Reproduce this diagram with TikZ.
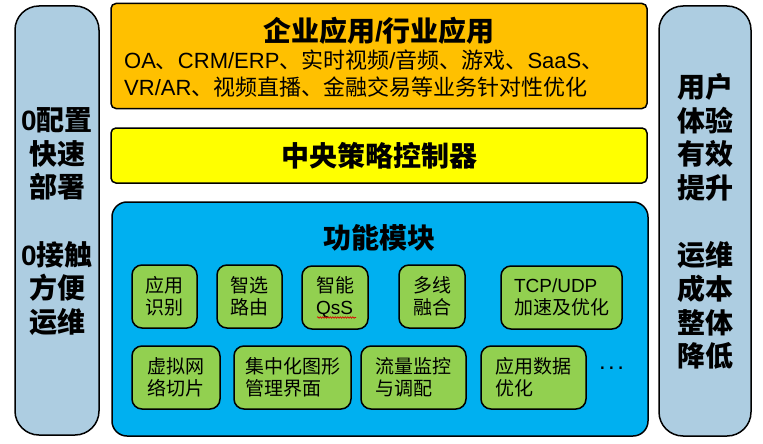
\documentclass[tikz,border=0pt]{standalone}
\usepackage{fontspec}
\setmainfont{Noto Sans CJK SC}
\newfontfamily\ar{Liberation Sans}
\usetikzlibrary{decorations.pathmorphing}
\definecolor{orangebox}{HTML}{FFC000}
\definecolor{yellowbox}{HTML}{FFFF00}
\definecolor{bluebox}{HTML}{00B0F0}
\definecolor{greenbox}{HTML}{92D050}
\definecolor{sidebox}{HTML}{ADCDE1}
\tikzset{
  frame/.style={draw=black, line width=1.5pt, inner sep=0pt, outer sep=0pt},
  sidepanel/.style={frame, fill=sidebox, rounded corners=24pt, minimum width=#1},
  sidetext/.style={font=\fontsize{28}{33.7}\selectfont\bfseries, align=center, inner sep=0pt},
  modbox/.style={frame, fill=greenbox, rounded corners=10pt, minimum height=63pt,
    minimum width=#1, align=left, font=\fontsize{19}{22}\selectfont},
  headtext/.style={font=\fontsize{28}{30}\selectfont\bfseries, inner sep=0pt},
}
\begin{document}
\begin{tikzpicture}[x=1pt, y=-1pt]
\useasboundingbox (0,0) rectangle (763,444);

% side panels
\node[sidepanel=84pt, minimum height=429pt] (left) at (57,220.5) {};
\node[sidetext] (lefttext) at (57,221.5) {{\ar 0}配置\\快速\\部署\\[0pt] \\{\ar 0}接触\\方便\\运维};
\node[sidepanel=92pt, minimum height=430pt] (right) at (705,221) {};
\node[sidetext] (righttext) at (705,221.5) {用户\\体验\\有效\\提升\\[0pt] \\运维\\成本\\整体\\降低};

% top: enterprise applications
\node[frame, fill=orangebox, rounded corners=5pt, minimum width=536pt, minimum height=105pt] (apps) at (379,56) {};
\node[headtext] (appstitle) at (379,31) {企业应用{\ar /}行业应用};
\node[anchor=west, inner sep=0pt, font=\fontsize{22}{27}\selectfont, align=left] (appslist) at (124,74)
  {{\ar OA}、{\ar CRM/ERP}、实时视频{\ar /}音频、游戏、{\ar SaaS}、\\{\ar VR/AR}、视频直播、金融交易等业务针对性优化};

% central controller
\node[frame, fill=yellowbox, rounded corners=5pt, minimum width=536pt, minimum height=55pt] (ctrl) at (379,155.5) {};
\node[headtext] (ctrltext) at (379,156) {中央策略控制器};

% function modules
\node[frame, fill=bluebox, rounded corners=15pt, minimum width=536pt, minimum height=234pt] (funcs) at (380,319) {};
\node[headtext] (funcstitle) at (379,238) {功能模块};

\node[modbox=65pt] (m1) at (164.5,296.5) {应用\\识别};
\node[modbox=65pt] (m2) at (249.5,296.5) {智选\\路由};
\node[modbox=66pt] (m3) at (335,297.5) {智能\\{\ar QsS}};
\node[modbox=66pt] (m4) at (432,296.5) {多线\\融合};
\node[modbox=121pt] (m5) at (561.5,297.5) {{\ar TCP/UDP}\\加速及优化};
\node[modbox=88pt] (m6) at (176,377.5) {虚拟网\\络切片};
\node[modbox=117pt] (m7) at (292.5,377.5) {集中化图形\\管理界面};
\node[modbox=105pt] (m8) at (413.5,377.5) {流量监控\\与调配};
\node[modbox=105pt] (m9) at (533.5,377.5) {应用数据\\优化};
\node[inner sep=0pt, font=\fontsize{24}{26}\selectfont\ar] (more) at (611.5,368) {.\kern2.5pt.\kern2.5pt.};

% spell-check squiggle under QsS
\coordinate (sq1) at (317,317.5);
\coordinate (sq2) at (356,317.5);
\draw[red!85!black, line width=0.6pt, decorate, decoration={snake, amplitude=0.8pt, segment length=2.5pt}] (sq1) -- (sq2);
\end{tikzpicture}
\end{document}
